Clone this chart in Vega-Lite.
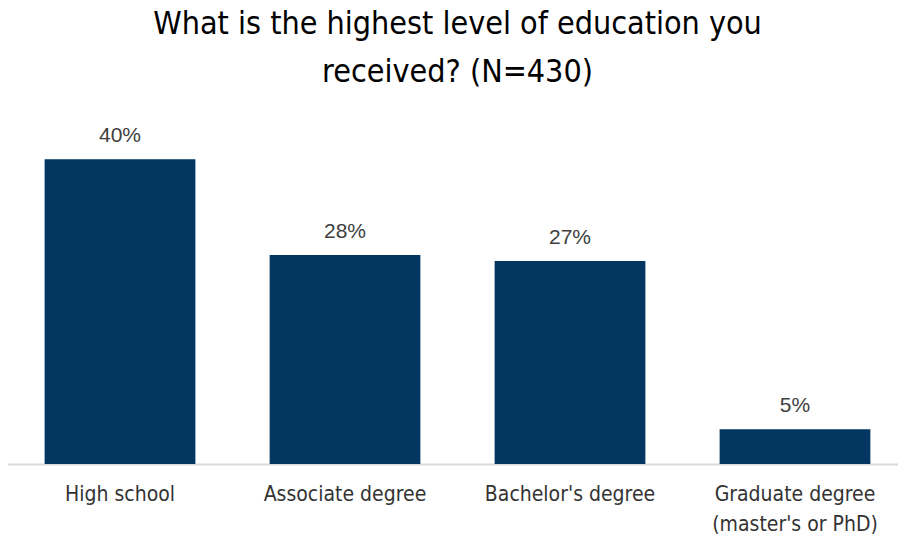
{
  "$schema": "https://vega.github.io/schema/vega-lite/v6.json",
  "autosize": {"type": "none"},
  "width": 900,
  "height": 332,
  "padding": {"left": 7.5, "top": 132, "right": 0, "bottom": 77},
  "background": "white",
  "title": {
    "text": ["What is the highest level of education you", "received? (N=430)"],
    "anchor": "middle",
    "frame": "group",
    "font": "DejaVu Sans Condensed, Roboto, sans-serif",
    "fontSize": 32,
    "fontWeight": "normal",
    "color": "#000000",
    "lineHeight": 48,
    "offset": 36
  },
  "data": {
    "values": [
      {"level": "High school", "share": 0.404},
      {"level": "Associate degree", "share": 0.277},
      {"level": "Bachelor's degree", "share": 0.269},
      {"level": "Graduate degree|(master's or PhD)", "share": 0.046}
    ]
  },
  "encoding": {
    "x": {
      "field": "level",
      "type": "nominal",
      "sort": null,
      "scale": {"paddingInner": 0.33, "paddingOuter": 0.165},
      "axis": {
        "title": null,
        "labelAngle": 0,
        "labelExpr": "split(datum.label, '|')",
        "labelFont": "DejaVu Sans Condensed, Roboto, sans-serif",
        "labelFontSize": 21,
        "labelColor": "#333333",
        "labelLineHeight": 30,
        "labelBaseline": "top",
        "labelPadding": 19,
        "ticks": false,
        "domainColor": "#d9d9d9",
        "domainWidth": 2
      }
    },
    "y": {
      "field": "share",
      "type": "quantitative",
      "scale": {"domain": [0, 0.44], "nice": false},
      "axis": null
    }
  },
  "layer": [
    {"mark": {"type": "bar", "color": "#033660"}},
    {
      "mark": {"type": "text", "baseline": "alphabetic", "dy": -17, "font": "Liberation Sans", "fontSize": 21, "color": "#404040"},
      "encoding": {"text": {"field": "share", "type": "quantitative", "format": ".0%"}}
    }
  ],
  "config": {"view": {"stroke": null}}
}
